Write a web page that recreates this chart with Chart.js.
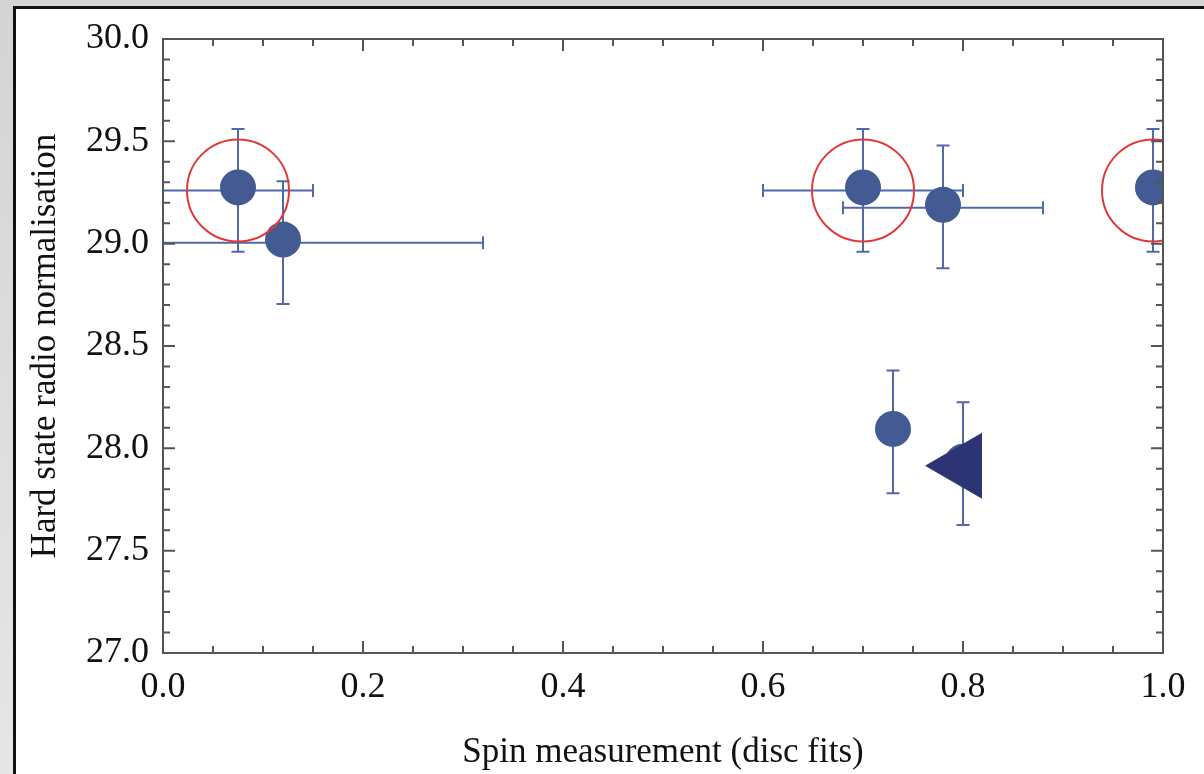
<!DOCTYPE html>
<html>
<head>
<meta charset="utf-8">
<script src="https://cdn.jsdelivr.net/npm/chart.js@4"></script>
<style>
  html, body { margin: 0; padding: 0; }
  body { width: 1204px; height: 774px; background: linear-gradient(#d4d4d4, #e6e6e6); position: relative; overflow: hidden; }
  #frame { position: absolute; left: 13px; top: 6px; width: 1300px; height: 900px; background: #fff; border-left: 3px solid #111; border-top: 3px solid #111; }
  #wrap { position: absolute; left: 0; top: 0; width: 1204px; height: 774px; }
</style>
</head>
<body>
<div id="frame"></div>
<div id="wrap"><canvas id="spinchart" width="1204" height="774"></canvas></div>
<script>
// measured points (spin from disc fits vs hard state radio normalisation)
const spinX   = [0.075, 0.12, 0.70, 0.78, 0.99, 0.73, 0.80];
const radioY  = [29.275, 29.02, 29.275, 29.19, 29.275, 28.095, 27.935];
const xErrLo  = [0.075, 0.16, 0.10, 0.10, 0, 0, 0];
const xErrHi  = [0.075, 0.20, 0.10, 0.10, 0, 0, 0];
const yErrHi  = [0.285, 0.285, 0.285, 0.29, 0.285, 0.285, 0.29];
const yErrLo  = [0.315, 0.315, 0.315, 0.31, 0.315, 0.315, 0.31];

// circled sources
const ringX = [0.075, 0.70, 0.99];
const ringY = [29.26, 29.26, 29.26];

// limit marker
const limitX = [0.80];
const limitY = [27.915];

const xTicks = [0, 0.2, 0.4, 0.6, 0.8, 1.0];
const yTicks = [27.0, 27.5, 28.0, 28.5, 29.0, 29.5, 30.0];

function toPoints(xs, ys) {
  return xs.map(function (v, i) { return { x: v, y: ys[i] }; });
}

// error bars, drawn under the markers
const errorBars = {
  id: 'errorBars',
  beforeDatasetsDraw(chart) {
    const ctx = chart.ctx;
    const xs = chart.scales.x, ys = chart.scales.y;
    const a = chart.chartArea;
    ctx.save();
    ctx.beginPath();
    ctx.rect(a.left, a.top, a.right - a.left, a.bottom - a.top);
    ctx.clip();
    ctx.strokeStyle = '#5169a8';
    ctx.lineWidth = 2;
    const cap = 6.5;
    for (let i = 0; i < spinX.length; i++) {
      const px = xs.getPixelForValue(spinX[i]);
      const py = ys.getPixelForValue(radioY[i]);
      ctx.beginPath();
      if (yErrHi[i] || yErrLo[i]) {
        const t = ys.getPixelForValue(radioY[i] + yErrHi[i]);
        const b = ys.getPixelForValue(radioY[i] - yErrLo[i]);
        ctx.moveTo(px, t); ctx.lineTo(px, b);
        ctx.moveTo(px - cap, t); ctx.lineTo(px + cap, t);
        ctx.moveTo(px - cap, b); ctx.lineTo(px + cap, b);
      }
      if (xErrLo[i] || xErrHi[i]) {
        const yb = ys.getPixelForValue(radioY[i] - 0.015);
        const l = xs.getPixelForValue(spinX[i] - xErrLo[i]);
        const r = xs.getPixelForValue(spinX[i] + xErrHi[i]);
        ctx.moveTo(l, yb); ctx.lineTo(r, yb);
        ctx.moveTo(l, yb - cap); ctx.lineTo(l, yb + cap);
        ctx.moveTo(r, yb - cap); ctx.lineTo(r, yb + cap);
      }
      ctx.stroke();
    }
    ctx.restore();
  }
};

// box frame with inward ticks on all four sides
const boxFrame = {
  id: 'boxFrame',
  afterDraw(chart) {
    const ctx = chart.ctx;
    const a = chart.chartArea;
    const xs = chart.scales.x, ys = chart.scales.y;
    ctx.save();
    ctx.strokeStyle = '#555';
    ctx.lineWidth = 2;
    ctx.strokeRect(a.left, a.top, a.right - a.left, a.bottom - a.top);
    ctx.beginPath();
    const major = 12, minor = 7;
    const xt = xs.ticks.map(function (t) { return t.value; });
    for (let i = 0; i < xt.length; i++) {
      const p = xs.getPixelForValue(xt[i]);
      ctx.moveTo(p, a.bottom); ctx.lineTo(p, a.bottom - major);
      ctx.moveTo(p, a.top); ctx.lineTo(p, a.top + major);
      if (i < xt.length - 1) {
        for (let k = 1; k < 4; k++) {
          const q = xs.getPixelForValue(xt[i] + (xt[i + 1] - xt[i]) * k / 4);
          ctx.moveTo(q, a.bottom); ctx.lineTo(q, a.bottom - minor);
          ctx.moveTo(q, a.top); ctx.lineTo(q, a.top + minor);
        }
      }
    }
    const yt = ys.ticks.map(function (t) { return t.value; });
    for (let i = 0; i < yt.length; i++) {
      const p = ys.getPixelForValue(yt[i]);
      ctx.moveTo(a.left, p); ctx.lineTo(a.left + major, p);
      ctx.moveTo(a.right, p); ctx.lineTo(a.right - major, p);
      if (i < yt.length - 1) {
        for (let k = 1; k < 5; k++) {
          const q = ys.getPixelForValue(yt[i] + (yt[i + 1] - yt[i]) * k / 5);
          ctx.moveTo(a.left, q); ctx.lineTo(a.left + minor, q);
          ctx.moveTo(a.right, q); ctx.lineTo(a.right - minor, q);
        }
      }
    }
    ctx.stroke();
    ctx.restore();
  }
};

const ctx = document.getElementById('spinchart').getContext('2d');

const spinchart = new Chart(ctx, {
  type: 'scatter',
  data: {
    datasets: [
      {
        label: 'limit',
        data: toPoints(limitX, limitY),
        pointStyle: 'triangle',
        rotation: -90,
        pointRadius: 38,
        pointHoverRadius: 38,
        backgroundColor: '#2c3476',
        borderWidth: 0,
        clip: 0,
        order: 0
      },
      {
        label: 'circled',
        data: toPoints(ringX, ringY),
        pointRadius: 51,
        pointHoverRadius: 51,
        backgroundColor: 'rgba(0,0,0,0)',
        borderColor: '#e0393a',
        borderWidth: 2,
        clip: 0,
        order: 1
      },
      {
        label: 'sources',
        data: toPoints(spinX, radioY),
        pointRadius: 18,
        pointHoverRadius: 18,
        backgroundColor: '#435a92',
        borderWidth: 0,
        clip: 0,
        order: 2
      }
    ]
  },
  options: {
    responsive: false,
    animation: false,
    events: [],
    layout: { autoPadding: false, padding: { left: 0, right: 41, top: 39, bottom: 0 } },
    plugins: {
      legend: { display: false },
      tooltip: { enabled: false }
    },
    scales: {
      x: {
        type: 'linear',
        min: 0,
        max: 1,
        afterBuildTicks: function (s) { s.ticks = xTicks.map(function (v) { return { value: v }; }); },
        afterFit: function (s) { s.height = 121; },
        grid: { display: false, drawTicks: false },
        border: { display: false },
        ticks: {
          padding: 13,
          color: '#111',
          font: { family: 'Liberation Serif', size: 36 },
          callback: function (v) { return Number(v).toFixed(1); }
        },
        title: {
          display: true,
          text: 'Spin measurement (disc fits)',
          color: '#111',
          font: { family: 'Liberation Serif', size: 35 },
          padding: { top: 0, bottom: 0 }
        }
      },
      y: {
        type: 'linear',
        min: 27,
        max: 30,
        afterBuildTicks: function (s) { s.ticks = yTicks.map(function (v) { return { value: v }; }); },
        afterFit: function (s) { s.width = 163; },
        grid: { display: false, drawTicks: false },
        border: { display: false },
        ticks: {
          padding: 14,
          color: '#111',
          font: { family: 'Liberation Serif', size: 36 },
          callback: function (v) { return Number(v).toFixed(1); }
        },
        title: {
          display: true,
          text: 'Hard state radio normalisation',
          color: '#111',
          font: { family: 'Liberation Serif', size: 35 },
          padding: { top: 25, bottom: 0 }
        }
      }
    }
  },
  plugins: [errorBars, boxFrame]
});
</script>
</body>
</html>
